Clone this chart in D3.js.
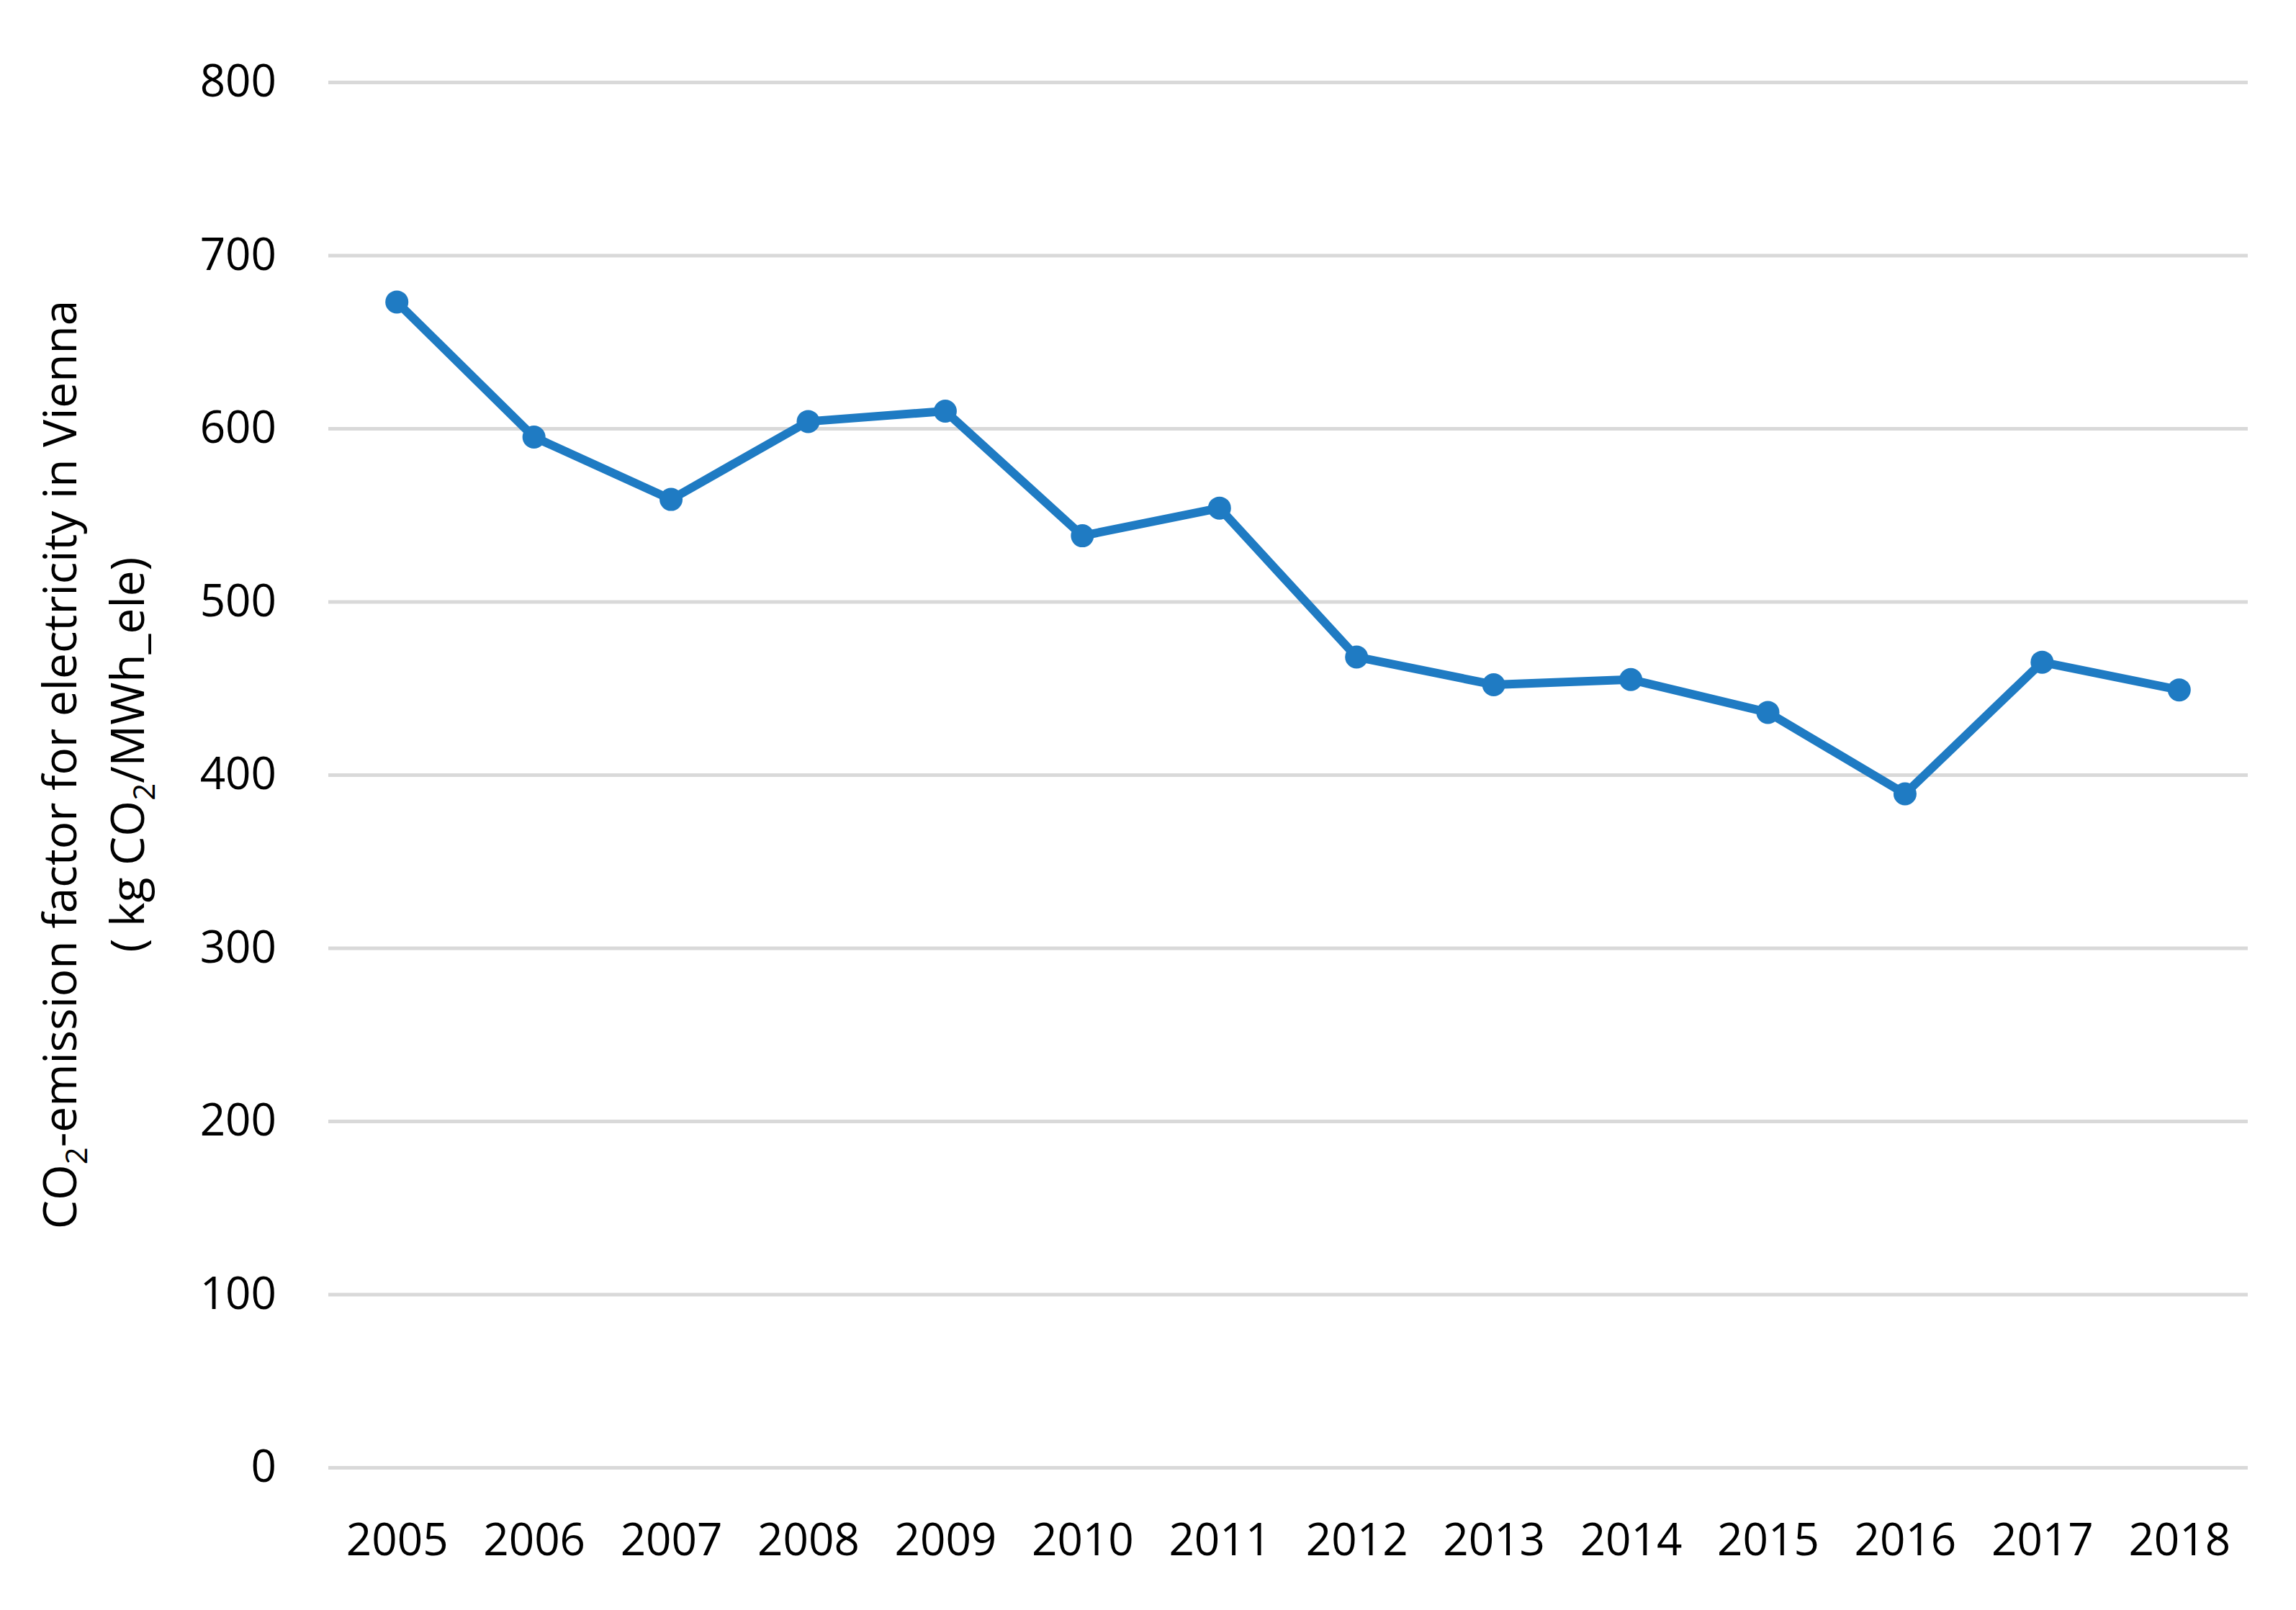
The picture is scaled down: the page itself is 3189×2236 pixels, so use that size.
<!DOCTYPE html>
<html>
<head>
<meta charset="utf-8">
<script src="https://cdn.jsdelivr.net/npm/d3@7"></script>
<style>
  html, body { margin: 0; padding: 0; background: #fff; }
  svg { display: block; }
</style>
</head>
<body>
<svg id="chart" width="3189" height="2236"></svg>
<script>
const years = ["2005","2006","2007","2008","2009","2010","2011","2012","2013","2014","2015","2016","2017","2018"];
const emissionFactor = [673, 595, 559, 604, 610, 538, 554, 468, 452, 455, 436, 389, 465, 449];
const yTicks = [0, 100, 200, 300, 400, 500, 600, 700, 800];

(function () {
const FONT = "'Open Sans', 'Noto Sans', sans-serif";
const svg = d3.select("#chart");
const W = 3189, H = 2236;
svg.append("rect").attr("width", W).attr("height", H).attr("fill", "#fff");

const plotLeft = 456, plotRight = 3122, plotTop = 114, plotBottom = 2038;

const x = d3.scalePoint().domain(years).range([plotLeft, plotRight]).padding(0.5);
const y = d3.scaleLinear().domain([0, 800]).range([plotBottom, plotTop]);

// Y axis with gridlines
const yAxis = svg.append("g")
  .attr("transform", `translate(${plotLeft},0)`)
  .call(d3.axisLeft(y).tickValues(yTicks).tickSize(-(plotRight - plotLeft)).tickPadding(72).tickFormat(d3.format("d")));
yAxis.select(".domain").remove();
yAxis.selectAll(".tick line").attr("stroke", "#d9d9d9").attr("stroke-width", 5);
yAxis.selectAll(".tick text")
  .attr("font-family", FONT).attr("font-size", 62).attr("fill", "#000");

// X axis labels
const xAxis = svg.append("g")
  .attr("transform", `translate(0,${plotBottom})`)
  .call(d3.axisBottom(x).tickSize(0).tickPadding(0));
xAxis.select(".domain").remove();
xAxis.selectAll(".tick text")
  .attr("font-family", FONT).attr("font-size", 62).attr("fill", "#000")
  .attr("dy", null).attr("y", 122);

// Line
const data = years.map((yr, i) => ({ yr, v: emissionFactor[i] }));
const color = "#1f7bc3";
svg.append("path")
  .datum(data)
  .attr("fill", "none")
  .attr("stroke", color)
  .attr("stroke-width", 12)
  .attr("stroke-linejoin", "round")
  .attr("d", d3.line().x(d => x(d.yr)).y(d => y(d.v)));

svg.append("g").selectAll("circle")
  .data(data).join("circle")
  .attr("cx", d => x(d.yr)).attr("cy", d => y(d.v))
  .attr("r", 16).attr("fill", color);

// Y-axis title (two lines, rotated)
const t1 = svg.append("text")
  .attr("transform", `translate(106,1062) rotate(-90)`)
  .attr("text-anchor", "middle")
  .attr("font-family", FONT).attr("font-size", 64).attr("fill", "#000");
t1.append("tspan").text("CO");
t1.append("tspan").attr("font-size", 42).attr("dy", 15).text("2");
t1.append("tspan").attr("dy", -15).text("-emission factor for electricity in Vienna");

const t2 = svg.append("text")
  .attr("transform", `translate(200,1048) rotate(-90)`)
  .attr("text-anchor", "middle")
  .attr("font-family", FONT).attr("font-size", 64).attr("fill", "#000");
t2.append("tspan").text("( kg CO");
t2.append("tspan").attr("font-size", 42).attr("dy", 15).text("2");
t2.append("tspan").attr("dy", -15).text("/MWh_ele)");
})();
</script>
</body>
</html>
